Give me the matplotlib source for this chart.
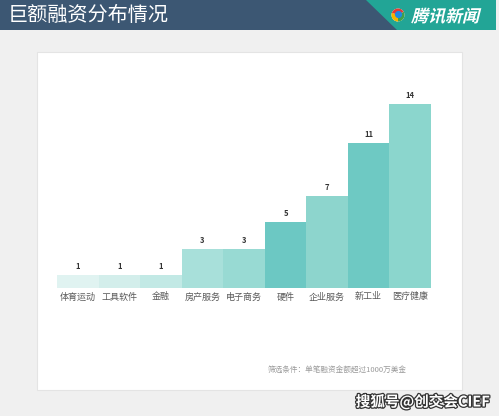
import matplotlib
matplotlib.use("Agg")
import matplotlib.pyplot as plt
import matplotlib.patches as mpatches
import matplotlib.patheffects as pe
from matplotlib.textpath import TextPath
from matplotlib.font_manager import FontProperties
from matplotlib.transforms import Affine2D

plt.rcParams['font.family'] = ['Noto Sans CJK SC', 'DejaVu Sans']

# data
categories = ['体育运动', '工具软件', '金融', '房产服务', '电子商务', '硬件', '企业服务', '新工业', '医疗健康']
values = [1, 1, 1, 3, 3, 5, 7, 11, 14]
bar_colors = ['#e0f3f1', '#d3eeeb', '#c2e9e5', '#a8e0da', '#98dad3',
              '#6cc8c3', '#8dd5cd', '#6ec9c3', '#8bd6cd']

title = '巨额融资分布情况'
brand = '腾讯新闻'
footnote = '筛选条件：单笔融资金额超过1000万美金'
watermark = '搜狐号@创交会CIEF'

W, H = 499, 416
fig = plt.figure(figsize=(W / 100, H / 100), dpi=100, facecolor='#f0f0f0')

# overlay in pixel coords for header / panel
bg = fig.add_axes([0, 0, 1, 1])
bg.set_xlim(0, W)
bg.set_ylim(H, 0)
bg.axis('off')

# white panel
bg.add_patch(mpatches.Rectangle((37, 52), 425, 338, facecolor='white',
                                edgecolor='#e4e4e4', lw=0.8))

# header bar
bg.add_patch(mpatches.Rectangle((0, 0), 496, 30, facecolor='#3c5773', lw=0))
bg.add_patch(mpatches.Polygon([(366, 0), (496, 0), (496, 30), (397, 30)],
                              facecolor='#22a596', lw=0))
bg.text(8, 15, title, color='white', fontsize=14.5, va='center', ha='left')

# logo
cx, cy = 398, 15
bg.add_patch(mpatches.Circle((cx, cy), 6.5, facecolor='white', lw=0))
bg.add_patch(mpatches.Wedge((cx, cy), 6.5, 90, 200, facecolor='#f5b400', lw=0))
bg.add_patch(mpatches.Wedge((cx, cy), 6.5, 200, 330, facecolor='#e53935', lw=0))
bg.add_patch(mpatches.Wedge((cx, cy), 6.5, 330, 450, facecolor='#43a047', lw=0))
bg.add_patch(mpatches.Circle((cx + 0.5, cy - 0.5), 3.6, facecolor='#1e88e5', lw=0))

# slanted brand text (CJK font has no italic face)
tp = TextPath((0, 0), brand, size=17,
              prop=FontProperties(family='Noto Sans CJK SC', weight='bold'))
tr = Affine2D().skew_deg(14, 0).scale(1, -1).translate(411, 22)
bg.add_patch(mpatches.PathPatch(tr.transform_path(tp), facecolor='white', lw=0))

# footnote
bg.text(268, 370, footnote, color='#9a9a9a', fontsize=5.5, va='center', ha='left')

# watermark
bg.text(490, 402, watermark, color='white', fontsize=10.5, va='center', ha='right',
        fontweight='bold',
        path_effects=[pe.withStroke(linewidth=1.8, foreground='#333333')])

# bar chart
x0, x1, ybase, ytop = 57, 431, 288, 104
ax = fig.add_axes([x0 / W, (H - ybase) / H, (x1 - x0) / W, (ybase - ytop) / H])
ax.set_facecolor('none')
pos = range(len(categories))
ax.bar(pos, values, width=1.0, color=bar_colors, lw=0)
ax.set_xlim(-0.5, len(categories) - 0.5)
ax.set_ylim(0, max(values))
ax.axis('off')

for i, v in enumerate(values):
    ax.text(i, v + 0.65, str(v), ha='center', va='center', fontsize=5.5,
            color='#333333', fontweight='bold', clip_on=False)
    ax.text(i, -0.68, categories[i], ha='center', va='center', fontsize=6.5,
            color='#5a5a5a', fontweight='medium', clip_on=False)

fig.savefig('out.png', dpi=100, facecolor=fig.get_facecolor())
